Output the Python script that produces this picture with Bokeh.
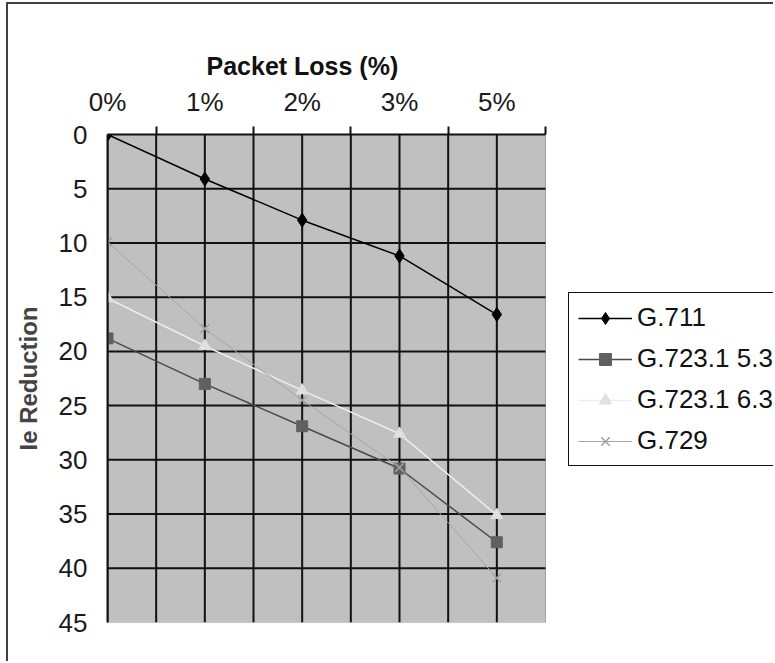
from bokeh.plotting import figure
from bokeh.models import Range1d, FixedTicker, Legend, LegendItem, Title
from bokeh.embed import file_html
from bokeh.resources import INLINE

categories = ["0%", "1%", "2%", "3%", "5%"]
g711 = [0.0, 4.1, 7.9, 11.2, 16.6]
g7231_53 = [18.8, 23.0, 26.9, 30.8, 37.6]
g7231_63 = [15.1, 19.5, 23.6, 27.6, 35.1]
g729 = [9.9, 17.9, 24.5, 30.7, 40.9]
y_ticks = [0, 5, 10, 15, 20, 25, 30, 35, 40, 45]

xs = list(range(len(categories)))
x_end = len(categories) - 0.5
y_end = y_ticks[-1]
FONT = "Liberation Sans"

PLOT_W = 438      # pixel width of the grey plotting area
FRAME_W = 666     # frame extends to the right edge so the legend can sit there
FRAME_H = 488

p = figure(width=765, height=657, frame_width=FRAME_W, frame_height=FRAME_H,
           output_backend="svg", toolbar_location=None,
           x_range=Range1d(0, x_end * FRAME_W / PLOT_W), y_range=Range1d(y_end, 0),
           x_axis_location="above", min_border_left=99, min_border_top=130,
           min_border_right=0, min_border_bottom=39)
p.styles = {"border-left": "2px solid #404040", "border-top": "2px solid #404040",
            "margin-left": "6px", "margin-top": "2px"}
p.background_fill_color = "white"
p.border_fill_color = "white"
p.outline_line_color = None
p.xgrid.visible = False
p.ygrid.visible = False

# grey plotting area
p.quad(left=0, right=x_end, top=0, bottom=y_end, fill_color="#C0C0C0",
       line_color="#A0A0A0", line_width=1)

# grid lines
xg = [i * 0.5 for i in range(2 * len(categories) - 1)]
p.segment(x0=xg, y0=[0] * len(xg), x1=xg, y1=[y_end] * len(xg),
          line_color="#111111", line_width=2)
yg = y_ticks[1:-1]
p.segment(x0=[0] * len(yg), y0=yg, x1=[x_end] * len(yg), y1=yg,
          line_color="#111111", line_width=2)

# x axis (top)
xa = p.xaxis[0]
xa.bounds = (0, x_end)
xa.ticker = FixedTicker(ticks=xs, minor_ticks=[i + 0.5 for i in xs])
xa.major_label_overrides = {i: c for i, c in zip(xs, categories)}
xa.major_tick_out = 0
xa.major_tick_in = 0
xa.minor_tick_out = 8
xa.minor_tick_in = 0
xa.minor_tick_line_color = "#111111"
xa.minor_tick_line_width = 2
xa.axis_line_color = "#111111"
xa.axis_line_width = 2
xa.major_label_text_font = FONT
xa.major_label_text_font_size = "26px"
xa.major_label_text_color = "#1a1a1a"
xa.major_label_standoff = 10

# y axis (left)
ya = p.yaxis[0]
ya.ticker = FixedTicker(ticks=y_ticks)
ya.minor_tick_out = 0
ya.minor_tick_in = 0
ya.major_tick_out = 0
ya.major_tick_in = 0
ya.axis_line_color = "#111111"
ya.axis_line_width = 2
ya.major_label_text_font = FONT
ya.major_label_text_font_size = "26px"
ya.major_label_text_color = "#1a1a1a"
ya.major_label_standoff = 20
ya.axis_label = "Ie Reduction"
ya.axis_label_text_font = FONT
ya.axis_label_text_font_style = "bold"
ya.axis_label_text_font_size = "24px"
ya.axis_label_standoff = 14

p.title = Title(text="Packet Loss (%)", align="left", offset=99,
                text_font=FONT, text_font_style="bold", text_font_size="25px",
                text_color="#111111", standoff=8)

series = [
    ("G.711", g711, "#000000", "#000000", "diamond", 14, 1.5),
    ("G.723.1 5.3", g7231_53, "#4a4a4a", "#606060", "square", 11, 1.5),
    ("G.723.1 6.3", g7231_63, "#EDEDED", "#E0E0E0", "triangle", 12, 1.5),
    ("G.729", g729, "#A6A6A6", "#A0A0A0", "x", 12, 1),
]
items = []
for name, vals, lc, mc, marker, size, lw in series:
    r1 = p.line(xs, vals, line_color=lc, line_width=lw)
    r2 = p.scatter(xs, vals, marker=marker, size=size, fill_color=mc,
                   line_color=mc, line_width=1.5 if marker == "x" else 1)
    items.append(LegendItem(label=name, renderers=[r1, r2]))

legend = Legend(items=items, location=(461, 156), label_text_font=FONT,
                label_text_font_size="26px", label_text_color="#111111",
                label_height=30, glyph_height=30, glyph_width=54, spacing=10,
                padding=9, margin=0, label_standoff=5, label_width=150,
                border_line_color="#111111", border_line_width=1.5,
                border_line_alpha=1.0,
                background_fill_color="white", background_fill_alpha=1)
p.add_layout(legend, "center")

open("out.html", "w").write(file_html(p, INLINE))
